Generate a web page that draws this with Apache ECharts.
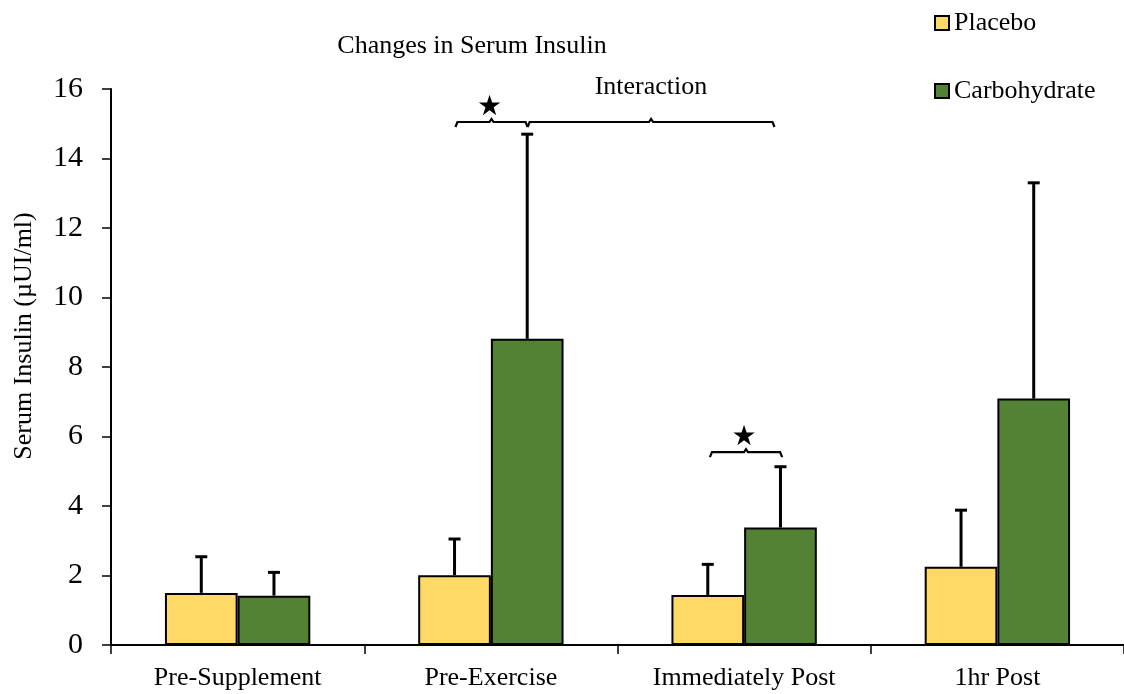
<!DOCTYPE html>
<html>
<head>
<meta charset="utf-8">
<script src="https://cdn.jsdelivr.net/npm/echarts@6/dist/echarts.min.js"></script>
<style>html,body{margin:0;padding:0;background:#fff;}#c{width:1124px;height:694px;}</style>
</head>
<body>
<div id="c"></div>
<script>
const categories = ['Pre-Supplement', 'Pre-Exercise', 'Immediately Post', '1hr Post'];
const placebo = [1.50, 2.01, 1.44, 2.25];
const placeboErr = [1.04, 1.04, 0.88, 1.63];
const carbohydrate = [1.42, 8.81, 3.38, 7.09];
const carbohydrateErr = [0.67, 5.89, 1.75, 6.21];
const yTicks = [0, 2, 4, 6, 8, 10, 12, 14, 16];
// brackets: [category, left offset (band fraction), right offset, y value, label]
const brackets = [
  [1, -0.14, 0.145, 15.05, '★'],
  [1, 0.145, 1.12, 15.05, ''],
  [2, -0.135, 0.15, 5.55, '★']
];

const FONT = '"Liberation Serif", "Times New Roman", serif';
const BARW = 0.287;

const chart = echarts.init(document.getElementById('c'), null, {renderer: 'canvas'});

function errRender(side) {
  return function (params, api) {
    const i = api.value(0);
    const top = api.value(1) + api.value(2);
    const band = api.size([1, 0])[0];
    const base = api.coord([i, api.value(1)]);
    const t = api.coord([i, top]);
    const x = base[0] + side * band * BARW / 2;
    return {
      type: 'group',
      children: [
        {type: 'line', shape: {x1: x, y1: base[1], x2: x, y2: t[1]}, style: {stroke: '#000', lineWidth: 3}},
        {type: 'line', shape: {x1: x - 6, y1: t[1], x2: x + 6, y2: t[1]}, style: {stroke: '#000', lineWidth: 3}}
      ]
    };
  };
}

chart.setOption({
  animation: false,
  backgroundColor: '#fff',
  title: {
    text: 'Changes in Serum Insulin',
    left: 467, top: 28, textAlign: 'center',
    textStyle: {fontFamily: FONT, fontSize: 26, fontWeight: 'normal', color: '#000'}
  },
  legend: {
    data: ['Placebo', 'Carbohydrate'],
    orient: 'vertical',
    left: 929, top: 5,
    itemWidth: 14, itemHeight: 14, itemGap: 42,
    icon: 'rect',
    textStyle: {fontFamily: FONT, fontSize: 26, color: '#000', padding: [0, 0, 0, 0]}
  },
  grid: {left: 111, right: 0, top: 89, bottom: 49, containLabel: false},
  graphic: [
    {type: 'text', x: 24, y: 336, rotation: Math.PI / 2,
      style: {text: 'Serum Insulin (µUI/ml)', font: '26px ' + FONT, fill: '#000', textAlign: 'center', textVerticalAlign: 'middle'}},
    {type: 'text', x: 651, y: 87,
      style: {text: 'Interaction', font: '26px ' + FONT, fill: '#000', textAlign: 'center', textVerticalAlign: 'middle'}}
  ],
  xAxis: {
    type: 'category',
    data: categories,
    axisLine: {lineStyle: {color: '#000', width: 2}},
    axisTick: {show: true, length: 9, lineStyle: {color: '#000', width: 1.5}},
    axisLabel: {fontFamily: FONT, fontSize: 26, color: '#000', margin: 20}
  },
  yAxis: {
    type: 'value',
    min: 0, max: 16, interval: 2,
    splitLine: {show: false},
    axisLine: {show: true, lineStyle: {color: '#000', width: 2}},
    axisTick: {show: true, length: 9, lineStyle: {color: '#000', width: 1.5}},
    axisLabel: {fontFamily: FONT, fontSize: 30, color: '#000', margin: 28,
      formatter: v => yTicks.includes(v) ? String(v) : ''}
  },
  series: [
    {name: 'Placebo', type: 'bar', data: placebo, barWidth: (BARW * 100) + '%', barGap: '0%',
      itemStyle: {color: '#FFD966', borderColor: '#000', borderWidth: 2}},
    {name: 'Carbohydrate', type: 'bar', data: carbohydrate, barWidth: (BARW * 100) + '%', barGap: '0%',
      itemStyle: {color: '#548235', borderColor: '#000', borderWidth: 2}},
    {type: 'custom', name: 'errP', renderItem: errRender(-1), z: 3,
      data: placebo.map((v, i) => [i, v, placeboErr[i]])},
    {type: 'custom', name: 'errC', renderItem: errRender(1), z: 3,
      data: carbohydrate.map((v, i) => [i, v, carbohydrateErr[i]])},
    {type: 'custom', name: 'brackets', z: 4,
      data: brackets.map(b => [b[0], b[1], b[2], b[3]]),
      renderItem: function (params, api) {
        const i = api.value(0);
        const band = api.size([1, 0])[0];
        const p = api.coord([i, api.value(3)]);
        const xl = p[0] + api.value(1) * band;
        const xr = p[0] + api.value(2) * band;
        const y = p[1];
        const mid = (xl + xr) / 2;
        const label = brackets[params.dataIndex][4];
        const children = [{
          type: 'polyline',
          shape: {points: [[xl, y + 5], [xl + 2, y], [mid - 2, y], [mid, y - 3], [mid + 2, y], [xr - 2, y], [xr, y + 5]]},
          style: {stroke: '#000', lineWidth: 2.2, fill: null}
        }];
        if (label) {
          children.push({type: 'text', x: mid - 2, y: y - 14,
            style: {text: label, font: '28px "DejaVu Sans"', fill: '#000', textAlign: 'center', textVerticalAlign: 'middle'}});
        }
        return {type: 'group', children: children};
      }}
  ]
});
</script>
</body>
</html>
